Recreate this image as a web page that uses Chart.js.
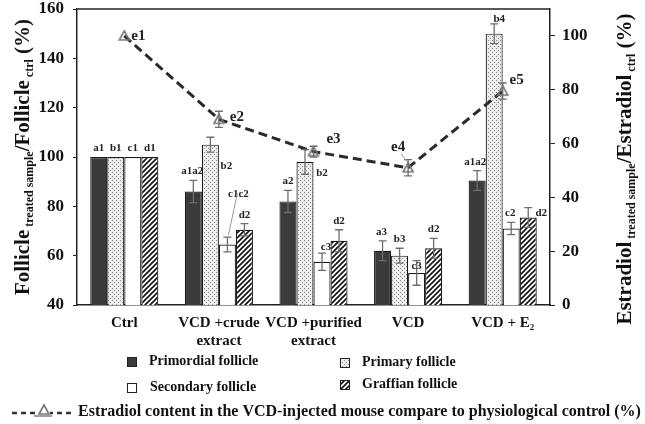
<!DOCTYPE html>
<html>
<head>
<meta charset="utf-8">
<script src="https://cdn.jsdelivr.net/npm/chart.js@4/dist/chart.umd.min.js"></script>
<style>
  html, body { margin: 0; padding: 0; background: #fff; }
  #wrap { width: 645px; height: 424px; position: relative; }
</style>
</head>
<body>
<div id="wrap"><canvas id="chart" width="645" height="424"></canvas></div>
<script>
// categories and values
const groups = ['Ctrl', ['VCD +crude', 'extract'], ['VCD +purified', 'extract'], 'VCD', 'VCD + E₂'];
const primordial = [100, 86, 82, 62, 90.5];
const primordialErr = [0, 4.5, 4.5, 4, 4];
const primary = [100, 105, 98, 60, 150];
const primaryErr = [0, 3, 5, 3, 4];
const secondary = [100, 64.5, 57.5, 53, 71];
const secondaryErr = [0, 3, 3.5, 5, 2.5];
const graffian = [100, 70.5, 66, 63, 75.5];
const graffianErr = [0, 2.5, 4.5, 4, 4];
const estradiol = [100, 69, 57, 51, 79.5];
const estradiolErr = [0, 3, 2, 3, 3];

const primordialTags = ['a1', 'a1a2', 'a2', 'a3', 'a1a2'];
const primaryTags = ['b1', 'b2', 'b2', 'b3', 'b4'];
const secondaryTags = ['c1', 'c1c2', 'c3', 'c3', 'c2'];
const graffianTags = ['d1', 'd2', 'd2', 'd2', 'd2'];
const estradiolTags = ['e1', 'e2', 'e3', 'e4', 'e5'];

const leftTicks = [40, 60, 80, 100, 120, 140, 160];
const rightTicks = [0, 20, 40, 60, 80, 100];

// label nudges (px) relative to top of error bar
const tagShift = {
  0: [[0, -6], [-1, -6], [0, -6], [-1, -6], [-2, -6]],
  1: [[0, -6], [16, 32], [17, 26], [0, -6], [5, -2]],
  2: [[0, -6], [11, -40], [4, -3], [0, 8], [-1, -6]],
  3: [[0, -6], [0, -6], [0, -6], [0, -6], [13, 8]]
};
const eShift = [[14, 0], [18, -2], [20, -12], [-10, -21], [14, -11]];

const serif = '"Liberation Serif", "DejaVu Serif", serif';

function makePattern(kind) {
  const c = document.createElement('canvas');
  const g = c.getContext('2d');
  if (kind === 'dots') {
    c.width = 4; c.height = 4;
    g.fillStyle = '#ececec'; g.fillRect(0, 0, 4, 4);
    g.fillStyle = '#8a8a8a';
    g.fillRect(0, 0, 1, 1); g.fillRect(2, 2, 1, 1);
  } else {
    c.width = 5; c.height = 5;
    g.fillStyle = '#fff'; g.fillRect(0, 0, 5, 5);
    g.strokeStyle = '#111'; g.lineWidth = 1.6;
    g.beginPath();
    g.moveTo(-1, 6); g.lineTo(6, -1);
    g.moveTo(-1, 1); g.lineTo(1, -1);
    g.moveTo(4, 6); g.lineTo(6, 4);
    g.stroke();
  }
  return g.createPattern(c, 'repeat');
}
const dots = makePattern('dots');
const hatch = makePattern('hatch');

function triangle(r) {
  const c = document.createElement('canvas');
  c.width = 2 * r + 4; c.height = 2 * r + 4;
  const g = c.getContext('2d');
  g.strokeStyle = '#777'; g.lineWidth = 1.6;
  g.beginPath();
  g.moveTo(r + 2, 2); g.lineTo(2 * r + 2, 2 * r + 1); g.lineTo(2, 2 * r + 1); g.closePath();
  g.stroke();
  return c;
}
const triImg = triangle(5);

const barSets = [
  { label: 'Primordial follicle', data: primordial, err: primordialErr, tags: primordialTags, backgroundColor: '#3b3b3b' },
  { label: 'Primary follicle', data: primary, err: primaryErr, tags: primaryTags, backgroundColor: dots },
  { label: 'Secondary follicle', data: secondary, err: secondaryErr, tags: secondaryTags, backgroundColor: '#ffffff' },
  { label: 'Graffian follicle', data: graffian, err: graffianErr, tags: graffianTags, backgroundColor: hatch }
];

function drawSubText(ctx, parts, x, y) {
  // parts: [text, big?]
  let w = 0;
  parts.forEach(p => { ctx.font = p[1] ? 'bold 21px ' + serif : 'bold 12px ' + serif; w += ctx.measureText(p[0]).width; });
  let cx = x - w / 2;
  parts.forEach(p => {
    ctx.font = p[1] ? 'bold 21px ' + serif : 'bold 12px ' + serif;
    ctx.fillText(p[0], cx, p[1] ? y : y + 4);
    cx += ctx.measureText(p[0]).width;
  });
}

const extras = {
  id: 'extras',
  afterDatasetsDraw(chart) {
    const ctx = chart.ctx;
    const a = chart.chartArea;
    const yl = chart.scales.y, yr = chart.scales.y1;
    ctx.save();
    // frame top
    ctx.strokeStyle = '#222'; ctx.lineWidth = 1.5;
    ctx.beginPath(); ctx.moveTo(a.left, a.top); ctx.lineTo(a.right, a.top); ctx.stroke();

    // error bars + tags for bars
    barSets.forEach((s, di) => {
      const meta = chart.getDatasetMeta(di);
      meta.data.forEach((bar, i) => {
        const e = s.err[i];
        const v = s.data[i];
        if (e > 0) {
          const y1 = yl.getPixelForValue(v + e), y2 = yl.getPixelForValue(v - e);
          ctx.strokeStyle = '#6e6e6e'; ctx.lineWidth = 1.3;
          ctx.beginPath();
          ctx.moveTo(bar.x, y1); ctx.lineTo(bar.x, y2);
          ctx.moveTo(bar.x - 4, y1); ctx.lineTo(bar.x + 4, y1);
          ctx.moveTo(bar.x - 4, y2); ctx.lineTo(bar.x + 4, y2);
          ctx.stroke();
        }
        const top = yl.getPixelForValue(v + e);
        const sh = tagShift[di][i];
        ctx.fillStyle = '#222'; ctx.font = 'bold 11px ' + serif;
        ctx.textAlign = 'center'; ctx.textBaseline = 'alphabetic';
        ctx.fillText(s.tags[i], bar.x + sh[0], top + sh[1]);
        if (di === 2 && i === 1) {
          ctx.strokeStyle = '#999'; ctx.lineWidth = 1;
          ctx.beginPath(); ctx.moveTo(bar.x + 10, top - 44); ctx.lineTo(bar.x + 1, top - 2); ctx.stroke();
        }
      });
    });

    // estradiol error bars and tags
    const lm = chart.getDatasetMeta(4);
    lm.data.forEach((p, i) => {
      const e = estradiolErr[i];
      if (e > 0) {
        const y1 = yr.getPixelForValue(estradiol[i] + e), y2 = yr.getPixelForValue(estradiol[i] - e);
        ctx.strokeStyle = '#6e6e6e'; ctx.lineWidth = 1.3;
        ctx.beginPath();
        ctx.moveTo(p.x, y1); ctx.lineTo(p.x, y2);
        ctx.moveTo(p.x - 4, y1); ctx.lineTo(p.x + 4, y1);
        ctx.moveTo(p.x - 4, y2); ctx.lineTo(p.x + 4, y2);
        ctx.stroke();
      }
      ctx.fillStyle = '#222'; ctx.font = 'bold 15px ' + serif;
      ctx.textAlign = 'center'; ctx.textBaseline = 'middle';
      ctx.fillText(estradiolTags[i], p.x + eShift[i][0], p.y + eShift[i][1]);
      if (i === 3) {
        ctx.strokeStyle = '#999'; ctx.lineWidth = 1;
        ctx.beginPath(); ctx.moveTo(p.x - 7, p.y - 14); ctx.lineTo(p.x - 1, p.y - 6); ctx.stroke();
      }
    });

    // axis titles
    ctx.fillStyle = '#111'; ctx.textAlign = 'left'; ctx.textBaseline = 'alphabetic';
    ctx.save();
    ctx.translate(29, (a.top + a.bottom) / 2);
    ctx.rotate(-Math.PI / 2);
    drawSubText(ctx, [['Follicle', 1], [' treated sample', 0], ['/Follicle', 1], [' ctrl', 0], [' (%)', 1]], 0, 0);
    ctx.restore();
    ctx.save();
    ctx.translate(631, (a.top + a.bottom) / 2 + 12);
    ctx.rotate(-Math.PI / 2);
    drawSubText(ctx, [['Estradiol', 1], [' treated sample', 0], ['/Estradiol', 1], [' ctrl', 0], [' (%)', 1]], 0, 0);
    ctx.restore();

    // legend
    ctx.font = 'bold 14px ' + serif; ctx.textBaseline = 'middle'; ctx.textAlign = 'left';
    const spots = [[127, 362, 149], [340, 363, 362], [127, 388, 150], [340, 385, 362]];
    barSets.forEach((s, i) => {
      const sp = spots[i];
      ctx.fillStyle = s.backgroundColor;
      ctx.fillRect(sp[0], sp[1] - 5, 10, 10);
      ctx.strokeStyle = '#222'; ctx.lineWidth = 1;
      ctx.strokeRect(sp[0] + 0.5, sp[1] - 4.5, 9, 9);
      ctx.fillStyle = '#111';
      ctx.fillText(s.label, sp[2], sp[1] - 1);
    });
    ctx.strokeStyle = '#333'; ctx.lineWidth = 2.5; ctx.setLineDash([5, 4]);
    ctx.beginPath(); ctx.moveTo(12, 413); ctx.lineTo(74, 413); ctx.stroke();
    ctx.setLineDash([]);
    ctx.fillStyle = '#fff'; ctx.fillRect(36, 405, 14, 12);
    ctx.drawImage(triImg, 37, 403);
    ctx.strokeStyle = '#777'; ctx.lineWidth = 1.4;
    ctx.beginPath(); ctx.moveTo(34, 416); ctx.lineTo(52, 416); ctx.stroke();
    ctx.fillStyle = '#111'; ctx.font = 'bold 16px ' + serif;
    ctx.fillText('Estradiol content in the VCD-injected mouse compare to physiological control (%)', 78, 412);
    ctx.restore();
  }
};

new Chart(document.getElementById('chart'), {
  data: {
    labels: groups,
    datasets: [
      ...barSets.map(s => ({
        type: 'bar', label: s.label, data: s.data, yAxisID: 'y',
        backgroundColor: s.backgroundColor, borderColor: '#1a1a1a', borderWidth: 1.2,
        categoryPercentage: 0.72, barPercentage: 1, order: 2
      })),
      {
        type: 'line', label: 'Estradiol', data: estradiol, yAxisID: 'y1',
        borderColor: '#2a2a2a', borderWidth: 3, borderDash: [9, 5],
        pointStyle: triImg, pointRadius: 6, fill: false, tension: 0, order: 1
      }
    ]
  },
  options: {
    responsive: false,
    animation: false,
    devicePixelRatio: 1,
    layout: { padding: { top: 0, left: 0, right: 0, bottom: 74 } },
    plugins: { legend: { display: false }, tooltip: { enabled: false } },
    scales: {
      x: {
        grid: { display: false, drawTicks: false },
        border: { color: '#222', width: 1.5 },
        ticks: { color: '#111', font: { family: serif, size: 15, weight: 'bold' }, padding: 9, maxRotation: 0, autoSkip: false },
        afterFit: s => { s.height = 45; }
      },
      y: {
        position: 'left', min: 40, max: 160,
        afterBuildTicks: s => { s.ticks = leftTicks.map(v => ({ value: v })); },
        grid: { drawOnChartArea: false, tickLength: 4, color: '#222' },
        border: { color: '#222', width: 1.5 },
        ticks: { color: '#111', font: { family: serif, size: 17, weight: 'bold' }, padding: 9 },
        afterFit: s => { s.width = 77; s.paddingTop = 9; s.paddingBottom = 0; }
      },
      y1: {
        position: 'right', min: 0, max: 110,
        afterBuildTicks: s => { s.ticks = rightTicks.map(v => ({ value: v })); },
        grid: { drawOnChartArea: false, tickLength: 5, color: '#222' },
        border: { color: '#222', width: 1.5 },
        ticks: { color: '#111', font: { family: serif, size: 17, weight: 'bold' }, padding: 7 },
        afterFit: s => { s.width = 95; s.paddingTop = 9; s.paddingBottom = 0; }
      }
    }
  },
  plugins: [extras]
});
</script>
</body>
</html>
